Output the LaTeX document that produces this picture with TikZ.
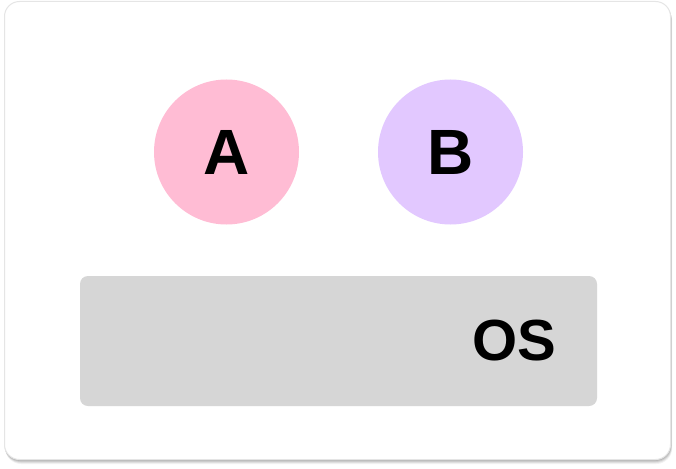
\documentclass[tikz,border=0pt]{standalone}
\usepackage{fontspec}
\setmainfont{Liberation Sans}
\begin{document}
\begin{tikzpicture}[x=1pt,y=-1pt,
  card/.style={draw=black!10, line width=1pt, fill=white, rounded corners=15pt},
  proc/.style={circle, minimum size=145pt, inner sep=0pt, font=\fontsize{64}{64}\selectfont\bfseries},
  osbox/.style={fill=osgray, rounded corners=8pt}]
\definecolor{pinkA}{HTML}{FFBCD4}
\definecolor{purpB}{HTML}{E2C8FF}
\definecolor{osgray}{HTML}{D6D6D6}
\useasboundingbox (0,0) rectangle (676,468);
% shadow
\foreach \o/\a in {4/0.05,3/0.07,2/0.09,1/0.1}{
  \fill[black, opacity=\a, rounded corners=16pt] (4+\o*0.3,1+\o) rectangle (671+\o*0.3,460+\o);
}
\draw[card] (4.5,1.5) rectangle (670.5,459.5);
\node[proc, fill=pinkA] (A) at (226.5,152) {A};
\node[proc, fill=purpB] (B) at (450.5,152) {B};
\fill[osbox] (80,276) rectangle (597,406);
\node[font=\fontsize{58}{58}\selectfont\bfseries, anchor=center] (os) at (514,341) {OS};
\end{tikzpicture}
\end{document}
